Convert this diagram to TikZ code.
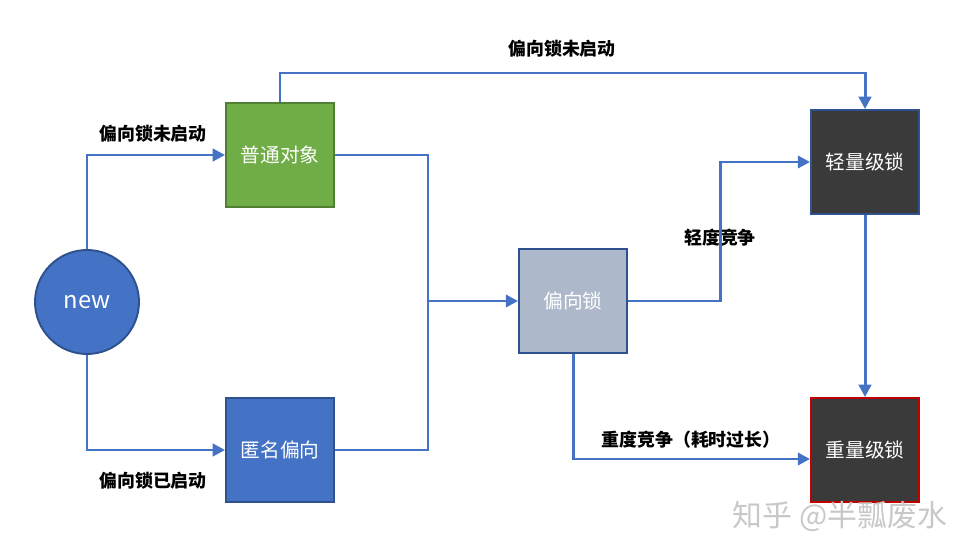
\documentclass[tikz,border=0pt]{standalone}
\usepackage{fontspec}
\usepackage{xcolor}
\usetikzlibrary{arrows.meta}
\setmainfont{Noto Sans CJK SC}
\definecolor{flowblue}{HTML}{4472C4}
\definecolor{edgeblue}{HTML}{2F528F}
\definecolor{objgreen}{HTML}{70AD47}
\definecolor{objline}{HTML}{507E32}
\definecolor{biasgray}{HTML}{ADB9CA}
\definecolor{lockdark}{HTML}{3A3A3A}
\definecolor{heavyred}{HTML}{C00000}
\definecolor{markgray}{HTML}{C8C8C8}

\begin{document}
\begin{tikzpicture}[x=0.02cm,y=-0.02cm,
  box/.style={draw=edgeblue, line width=1.1pt, minimum width=2.16cm, minimum height=2.08cm, inner sep=0pt, text=white, font=\fontsize{11.2}{13}\selectfont},
  tag/.style={font=\fontsize{10.2}{12}\selectfont\bfseries, text=black},
  flow/.style={flowblue, line width=1.7pt, -{Triangle[length=7pt,width=7pt]}}]
  \useasboundingbox (0,0) rectangle (970,557);
  \node[circle, draw=edgeblue, fill=flowblue, line width=1.1pt, minimum size=2.08cm, inner sep=0pt, text=white, font=\fontsize{13.5}{15}\selectfont] (new) at (87,302) {new};
  \node[box, draw=objline, fill=objgreen] (plain) at (280,155) {普通对象};
  \node[box, fill=flowblue] (anon) at (280,450) {匿名偏向};
  \node[box, fill=biasgray] (biased) at (573,301) {偏向锁};
  \node[box, fill=lockdark] (light) at (865,162) {轻量级锁};
  \node[box, draw=heavyred, fill=lockdark] (heavy) at (865,450) {重量级锁};

  % labels
  \node[tag] (offA) at (153,134) {偏向锁未启动};
  \node[tag] (onA) at (153,481) {偏向锁已启动};
  \node[tag] (offB) at (562,49) {偏向锁未启动};
  \node[tag] (mild) at (720,238) {轻度竞争};
  \node[tag] (hard) at (691,440) {重度竞争（耗时过长）};

  % connectors
  \draw[flow] (new.north) |- (plain.west);
  \draw[flow] (new.south) |- (anon.west);
  \draw[flow] (plain.east) -| (428,301) -- (biased.west);
  \draw[flowblue, line width=1.7pt] (anon.east) -| (428,301);
  \draw[flow] (plain.north) |- (light.north |- 0,73) -- (light.north);
  \draw[flow] (biased.east) -| (720,162) -- (light.west);
  \draw[flow] (biased.south) |- (heavy.west |- 0,459);
  \draw[flow] (light.south) -- (heavy.north);

  \node[text=markgray, font=\fontsize{17}{19}\selectfont] (mark) at (840,516) {知乎 @半瓢废水};
\end{tikzpicture}
\end{document}
